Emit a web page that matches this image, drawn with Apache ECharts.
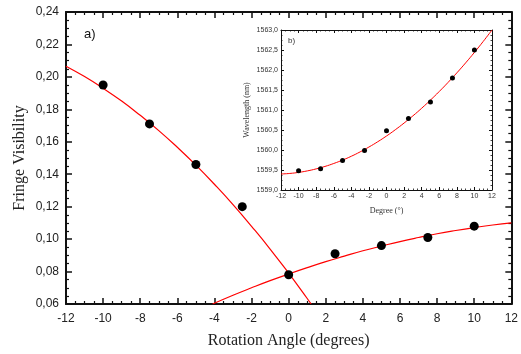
<!DOCTYPE html>
<html><head><meta charset="utf-8">
<script src="https://cdn.jsdelivr.net/npm/echarts@6/dist/echarts.min.js"></script>
<style>html,body{margin:0;padding:0;background:#fff}#c{width:521px;height:354px}</style>
</head><body><div id="c"></div>
<script>
// Main plot (a): fringe visibility vs rotation angle
const angleX = [-10, -7.5, -5, -2.5, 0, 2.5, 5, 7.5, 10];
const visibility = [0.195, 0.171, 0.146, 0.120, 0.078, 0.091, 0.096, 0.101, 0.108];
// Fit curves
const fitDownX = [-12, -11, -10, -9, -8, -7, -6, -5, -4, -3, -2, -1, 0, 1, 1.21];
const fitDownY = [0.2066, 0.2002, 0.1930, 0.1851, 0.1763, 0.1669, 0.1566, 0.1456, 0.1338, 0.1213, 0.1079, 0.0939, 0.0790, 0.0634, 0.0600];
const fitUpX = [-4.1, -3, -2, -1, 0, 1, 2, 3, 4, 5, 6, 7, 8, 9, 10, 11, 12];
const fitUpY = [0.0600, 0.0654, 0.0700, 0.0744, 0.0785, 0.0824, 0.0861, 0.0895, 0.0928, 0.0957, 0.0985, 0.1010, 0.1033, 0.1053, 0.1071, 0.1087, 0.1100];
// Inset (b): wavelength vs degree
const degreeX = [-10, -7.5, -5, -2.5, 0, 2.5, 5, 7.5, 10];
const wavelength = [1559.48, 1559.53, 1559.74, 1559.99, 1560.48, 1560.79, 1561.2, 1561.8, 1562.5];
const fitWX = [-12, -11, -10, -9, -8, -7, -6, -5, -4, -3, -2, -1, 0, 1, 2, 3, 4, 5, 6, 7, 8, 9, 10, 11, 12];
const fitWY = [1559.40, 1559.414, 1559.44, 1559.478, 1559.528, 1559.589, 1559.663, 1559.748, 1559.844, 1559.953, 1560.074, 1560.206, 1560.35, 1560.506, 1560.674, 1560.853, 1561.044, 1561.248, 1561.463, 1561.689, 1561.928, 1562.178, 1562.44, 1562.714, 1563.00];

const zip = (a, b) => a.map((v, i) => [v, b[i]]);
const sans = 'Liberation Sans, Arial, sans-serif';
const serif = 'Liberation Serif, Times New Roman, serif';
const ink = '#111';

function mainAxis(pos, opts) {
  return Object.assign({
    type: 'value', gridIndex: 0, position: pos,
    axisLine: {show: true, onZero: false, lineStyle: {color: ink, width: 2}},
    axisTick: {show: true, inside: true, length: 6, lineStyle: {color: ink, width: 1.5}},
    minorTick: {show: true, splitNumber: 4, length: 3, lineStyle: {color: ink, width: 1.2}},
    splitLine: {show: false},
    axisLabel: {show: false}
  }, opts);
}
function insetAxis(pos, opts) {
  return Object.assign({
    type: 'value', gridIndex: 1, position: pos,
    axisLine: {show: true, onZero: false, lineStyle: {color: ink, width: 1}},
    axisTick: {show: true, inside: true, length: 3, lineStyle: {color: ink, width: 1}},
    minorTick: {show: true, splitNumber: 4, length: 1.5, lineStyle: {color: ink, width: 0.8}},
    splitLine: {show: false},
    axisLabel: {show: false}
  }, opts);
}

const chart = echarts.init(document.getElementById('c'), null, {renderer: 'canvas'});
chart.setOption({
  animation: false,
  backgroundColor: '#fff',
  grid: [
    {left: 66, right: 7, top: 12, bottom: 48},
    {left: 281, right: 29, top: 30, bottom: 164, show: true, backgroundColor: '#fff', borderWidth: 0}
  ],
  xAxis: [
    mainAxis('bottom', {min: -12, max: 12, interval: 2,
      axisLabel: {show: true, fontSize: 12, color: '#222', fontFamily: sans, margin: 9},
      name: 'Rotation Angle (degrees)', nameLocation: 'middle', nameGap: 29,
      nameTextStyle: {fontFamily: serif, fontSize: 16, color: '#222'}}),
    mainAxis('top', {min: -12, max: 12, interval: 2}),
    insetAxis('bottom', {min: -12, max: 12, interval: 2,
      axisLabel: {show: true, fontSize: 7, color: '#333', fontFamily: sans, margin: 3},
      name: 'Degree (°)', nameLocation: 'middle', nameGap: 17,
      nameTextStyle: {fontFamily: serif, fontSize: 8, color: '#333'}}),
    insetAxis('top', {min: -12, max: 12, interval: 2})
  ],
  yAxis: [
    mainAxis('left', {min: 0.06, max: 0.24, interval: 0.02,
      axisLabel: {show: true, fontSize: 12, color: '#222', fontFamily: sans, margin: 7,
        formatter: v => v.toFixed(2).replace('.', ',')},
      name: 'Fringe Visibility', nameLocation: 'middle', nameGap: 38, nameMoveOverlap: false,
      nameTextStyle: {fontFamily: serif, fontSize: 16, color: '#222'}}),
    mainAxis('right', {min: 0.06, max: 0.24, interval: 0.02}),
    insetAxis('left', {min: 1559, max: 1563, interval: 0.5,
      axisLabel: {show: true, fontSize: 7, color: '#333', fontFamily: sans, margin: 3,
        formatter: v => v.toFixed(1).replace('.', ',')},
      name: 'Wavelength (nm)', nameLocation: 'middle', nameGap: 30,
      nameTextStyle: {fontFamily: serif, fontSize: 8, color: '#333'}}),
    insetAxis('right', {min: 1559, max: 1563, interval: 0.5})
  ],
  series: [
    {type: 'line', xAxisIndex: 0, yAxisIndex: 0, data: zip(fitDownX, fitDownY), smooth: true,
      showSymbol: false, symbol: 'none', lineStyle: {color: '#ff0000', width: 1.2}, z: 3},
    {type: 'line', xAxisIndex: 0, yAxisIndex: 0, data: zip(fitUpX, fitUpY), smooth: true,
      showSymbol: false, symbol: 'none', lineStyle: {color: '#ff0000', width: 1.2}, z: 3},
    {type: 'scatter', xAxisIndex: 0, yAxisIndex: 0, data: zip(angleX, visibility),
      symbol: 'circle', symbolSize: 9, itemStyle: {color: '#000', opacity: 1}, z: 4},
    {type: 'line', xAxisIndex: 2, yAxisIndex: 2, data: zip(fitWX, fitWY), smooth: true,
      showSymbol: false, symbol: 'none', lineStyle: {color: '#ff0000', width: 1}, z: 6},
    {type: 'scatter', xAxisIndex: 2, yAxisIndex: 2, data: zip(degreeX, wavelength),
      symbol: 'circle', symbolSize: 5, itemStyle: {color: '#000', opacity: 1}, z: 7}
  ],
  graphic: [
    {type: 'text', left: 84, top: 28, style: {text: 'a)', font: '13px ' + sans, fill: '#111'}},
    {type: 'text', left: 288, top: 37, style: {text: 'b)', font: '8px ' + sans, fill: '#333'}}
  ]
});
</script></body></html>
